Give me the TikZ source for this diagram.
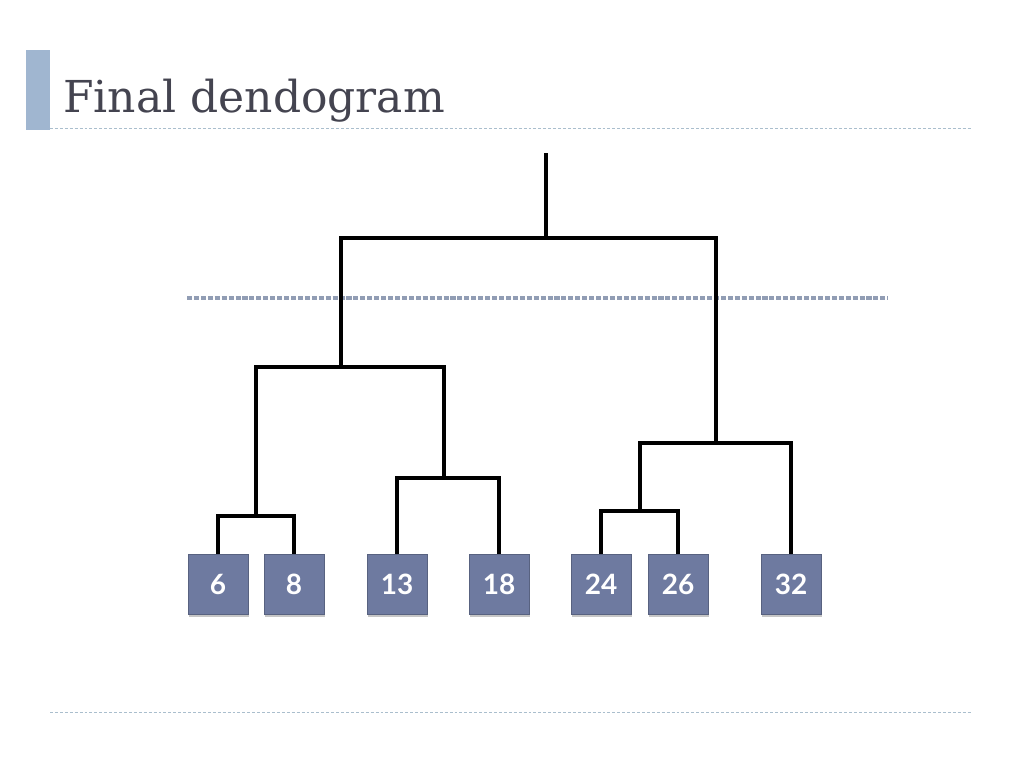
\documentclass[tikz,border=0pt]{standalone}
\usepackage{fontspec}
\setmainfont{DejaVu Serif}
\newfontfamily\leaffont{Lato}
\usetikzlibrary{shadows}

\definecolor{leafblue}{RGB}{110,122,160}
\definecolor{titlegrey}{RGB}{68,68,80}
\definecolor{barblue}{RGB}{160,182,208}
\definecolor{sepblue}{RGB}{170,190,205}
\definecolor{cutblue}{RGB}{145,157,180}

\tikzset{
  leaf/.style={draw=leafblue!80!black, line width=0.5pt, fill=leafblue, text=white,
    minimum width=45pt, minimum height=45pt, inner sep=0pt,
    font=\leaffont\bfseries\fontsize{21}{21}\selectfont,
    drop shadow={opacity=0.45, fill=black!50, shadow xshift=0.8pt, shadow yshift=-2.4pt}},
  link/.style={draw=black, line width=3pt, line join=miter},
  sepline/.style={draw=sepblue, line width=0.7pt, dash pattern=on 2.2pt off 1.5pt},
  cutline/.style={draw=cutblue, line width=3pt, dash pattern=on 3.8pt off 1.4pt},
}

\begin{document}
\begin{tikzpicture}[x=0.75pt,y=0.75pt,yscale=-1,xscale=1]
        \useasboundingbox (0,0) rectangle (1024,768);

        %Shape: Rectangle (title bar)
        \fill [barblue] (26,50) rectangle (50,130) ;
        % Text Node
        \node [anchor=base west, inner sep=0pt, text=titlegrey, font=\fontsize{33}{33}\selectfont] (title) at (63,112) {Final dendogram};

        %Straight Lines (separators)
        \coordinate (sepTL) at (50,128);
        \coordinate (sepTR) at (972,128);
        \coordinate (sepBL) at (50,712);
        \coordinate (sepBR) at (972,712);
        \draw [sepline] (sepTL) -- (sepTR) ;
        \draw [sepline] (sepBL) -- (sepBR) ;

        % Leaf Nodes
        \node [leaf] (n6) at (218,584) {6};
        \node [leaf] (n8) at (294,584) {8};
        \node [leaf] (n13) at (397,584) {13};
        \node [leaf] (n18) at (499,584) {18};
        \node [leaf] (n24) at (601,584) {24};
        \node [leaf] (n26) at (678,584) {26};
        \node [leaf] (n32) at (791,584) {32};

        % Junctions
        \coordinate (a) at (256,516);
        \coordinate (b) at (444,478);
        \coordinate (c) at (341,367);
        \coordinate (d) at (640,511);
        \coordinate (e) at (716,443);
        \coordinate (f) at (546,238);
        \coordinate (top) at (546,153);

        %Straight Lines (cut level)
        \coordinate (cutL) at (187,298);
        \coordinate (cutR) at (888,298);
        \draw [cutline, draw=black!15, shift={(1,4)}] (cutL) -- (cutR) ;
        \draw [cutline] (cutL) -- (cutR) ;

        %Straight Lines (dendogram)
        \draw [link] (n6.north) |- (a) -| (n8.north) ;
        \draw [link] (n13.north) |- (b) -| (n18.north) ;
        \draw [link] (a) |- (c) -| (b) ;
        \draw [link] (n24.north) |- (d) -| (n26.north) ;
        \draw [link] (d) |- (e) -| (n32.north) ;
        \draw [link] (c) |- (f) -| (e) ;
        \draw [link] (f) -- (top) ;

\end{tikzpicture}
\end{document}
